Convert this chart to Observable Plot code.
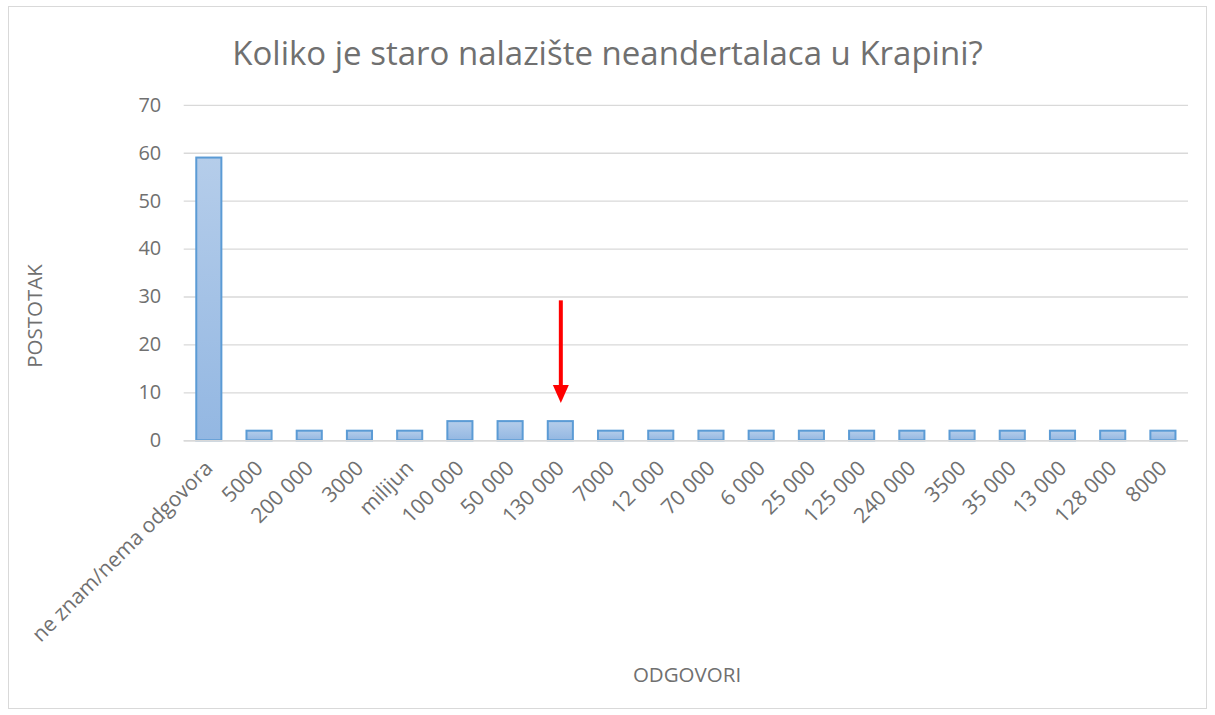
<!DOCTYPE html>
<html>
<head>
<meta charset="utf-8">
<script src="https://cdn.jsdelivr.net/npm/d3@7"></script>
<script src="https://cdn.jsdelivr.net/npm/@observablehq/plot@0.6"></script>
<style>
  html, body { margin: 0; padding: 0; background: #fff; }
  body { width: 1215px; height: 715px; position: relative; overflow: hidden; font-family: "Open Sans", Lato, sans-serif; }
  #box { position: absolute; left: 8px; top: 6px; width: 1199px; height: 703px; border: 1px solid #d9d9d9; box-sizing: border-box; }
  #title { position: absolute; left: 0; width: 100%; top: 29px; line-height: 33px; text-align: center; font-size: 33px; color: #707070; white-space: nowrap; }
  #ylab { position: absolute; left: 25px; top: 309px; line-height: 21px; transform: translate(-50%, -50%) rotate(-90deg); font-size: 20.5px; color: #707070; white-space: nowrap; }
  #xlab { position: absolute; left: 678px; top: 657px; line-height: 21px; transform: translateX(-50%); font-size: 20.5px; color: #707070; white-space: nowrap; }
  #chart { position: absolute; left: 0; top: 0; }
</style>
</head>
<body>
<div id="box">
  <div id="chart"></div>
  <div id="title">Koliko je staro nalazište neandertalaca u Krapini?</div>
  <div id="ylab">POSTOTAK</div>
  <div id="xlab">ODGOVORI</div>
</div>
<script>
const categories = ["ne znam/nema odgovora","5000","200 000","3000","milijun","100 000","50 000","130 000","7000","12 000","70 000","6 000","25 000","125 000","240 000","3500","35 000","13 000","128 000","8000"];
const values = [59,2,2,2,2,4,4,4,2,2,2,2,2,2,2,2,2,2,2,2];
const yTicks = [0,10,20,30,40,50,60,70];
const arrowCategory = "130 000";
const arrowFrom = 29.2;
const arrowTo = 7.9;

const data = categories.map((c, i) => ({category: c, value: values[i]}));

function gradientDefs() {
  const ns = "http://www.w3.org/2000/svg";
  const defs = document.createElementNS(ns, "defs");
  const lg = document.createElementNS(ns, "linearGradient");
  lg.setAttribute("id", "barGrad");
  lg.setAttribute("x1", "0"); lg.setAttribute("y1", "0");
  lg.setAttribute("x2", "0"); lg.setAttribute("y2", "1");
  [["0%", "#b5cdea"], ["100%", "#93b7e2"]].forEach(([o, c]) => {
    const s = document.createElementNS(ns, "stop");
    s.setAttribute("offset", o); s.setAttribute("stop-color", c);
    lg.appendChild(s);
  });
  defs.appendChild(lg);
  return defs;
}

const headSymbol = {
  draw(context) {
    context.moveTo(-8, -18);
    context.lineTo(8, -18);
    context.lineTo(0, 0);
    context.closePath();
  }
};

const chart = Plot.plot({
  width: 1199,
  height: 700,
  marginLeft: 175,
  marginRight: 18,
  marginTop: 98,
  marginBottom: 266,
  style: {fontFamily: "'Open Sans', Lato, sans-serif", fontSize: "20px", color: "#707070", background: "transparent"},
  x: {domain: categories, paddingInner: 0.5, paddingOuter: 0.25, round: false, label: null},
  y: {domain: [0, 70], label: null},
  marks: [
    gradientDefs,
    Plot.gridY(yTicks, {stroke: "#d9d9d9", strokeOpacity: 1, strokeWidth: 1.3}),
    Plot.axisY(yTicks, {tickSize: 0, tickPadding: 23, fontSize: 20, fill: "#707070"}),
    Plot.axisX({tickSize: 0, tickRotate: -45, tickPadding: 24, fontSize: 21, fill: "#707070"}),
    Plot.barY(data, {x: "category", y: "value", fill: "url(#barGrad)", stroke: "#5b9bd5", strokeWidth: 2}),
    Plot.ruleY([0], {stroke: "#d9d9d9", strokeWidth: 1.5}),
    Plot.ruleX([arrowCategory], {y1: arrowFrom, y2: arrowTo + 3.2, stroke: "#ff0000", strokeWidth: 4}),
    Plot.dot([arrowCategory], {x: d => d, y: arrowTo, symbol: headSymbol, fill: "#ff0000", stroke: "none", r: 5})
  ]
});
document.getElementById("chart").appendChild(chart);
</script>
</body>
</html>
